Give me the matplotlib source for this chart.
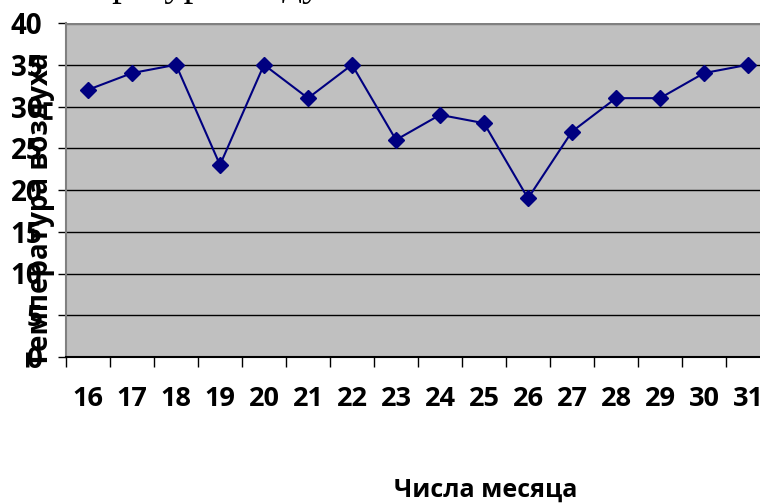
import numpy as np
import matplotlib
matplotlib.use('Agg')
import matplotlib.pyplot as plt
import matplotlib.ticker as ticker

# Числа месяца и температура воздуха
days = [16, 17, 18, 19, 20, 21, 22, 23, 24, 25, 26, 27, 28, 29, 30, 31]
temps = [32, 34, 35, 23, 35, 31, 35, 26, 29, 28, 19, 27, 31, 31, 34, 35]
y_ticks = [0, 5, 10, 15, 20, 25, 30, 35, 40]

plt.rcParams['font.family'] = ['Open Sans', 'DejaVu Sans']

fig = plt.figure(figsize=(7.6, 5.04), dpi=100)
W, H = 760, 504
# область построения выходит за правый край картинки
ax = fig.add_axes([66 / W, (H - 357) / H, 704 / W, 334 / H])
ax.set_facecolor('#C0C0C0')

ax.plot(days, temps, color='#000080', lw=1.5, marker='D', markersize=8,
        markerfacecolor='#000080', markeredgecolor='#000080', zorder=3)

ax.set_xlim(days[0] - 0.5, days[-1] + 0.5)
ax.set_ylim(0, 40)

for v in y_ticks[1:-1]:
    ax.axhline(v, color='black', lw=1, zorder=1)
ax.axhline(40, color='#808080', lw=2.5, zorder=2)

ax.xaxis.set_major_locator(ticker.FixedLocator([d - 0.5 for d in days] + [days[-1] + 0.5]))
ax.xaxis.set_major_formatter(ticker.NullFormatter())
ax.xaxis.set_minor_locator(ticker.FixedLocator(days))
ax.set_xticklabels([str(d) for d in days], minor=True)
ax.tick_params(axis='x', which='major', length=7.5, width=1, color='black', direction='out')
ax.tick_params(axis='x', which='minor', length=0, pad=21, labelsize=19.5)
for lab in ax.get_xticklabels(minor=True):
    lab.set_fontweight('bold')

ax.set_yticks(y_ticks)
ax.tick_params(axis='y', length=6, width=1, color='black', direction='out', pad=11, labelsize=20)
for lab in ax.get_yticklabels():
    lab.set_fontweight('bold')

ax.spines['top'].set_visible(False)
ax.spines['right'].set_visible(False)
ax.spines['left'].set_color('#808080')
ax.spines['left'].set_linewidth(1.5)
ax.spines['bottom'].set_color('black')
ax.spines['bottom'].set_linewidth(1.5)

fig.text(41 / W, 1 - 210 / H, 'Температура воздуха', rotation=90, ha='center', va='center',
         fontsize=20, fontweight='bold')
fig.text(486 / W, 1 - 490 / H, 'Числа месяца', ha='center', va='center',
         fontsize=18, fontweight='bold')
# заголовок почти целиком за верхним краем, видны только хвосты букв
fig.text(10 / W, 1 + 5 / H, 'Температура воздуха', ha='left', va='baseline',
         fontsize=28, family='Liberation Serif')

fig.savefig('out.png', dpi=100)
